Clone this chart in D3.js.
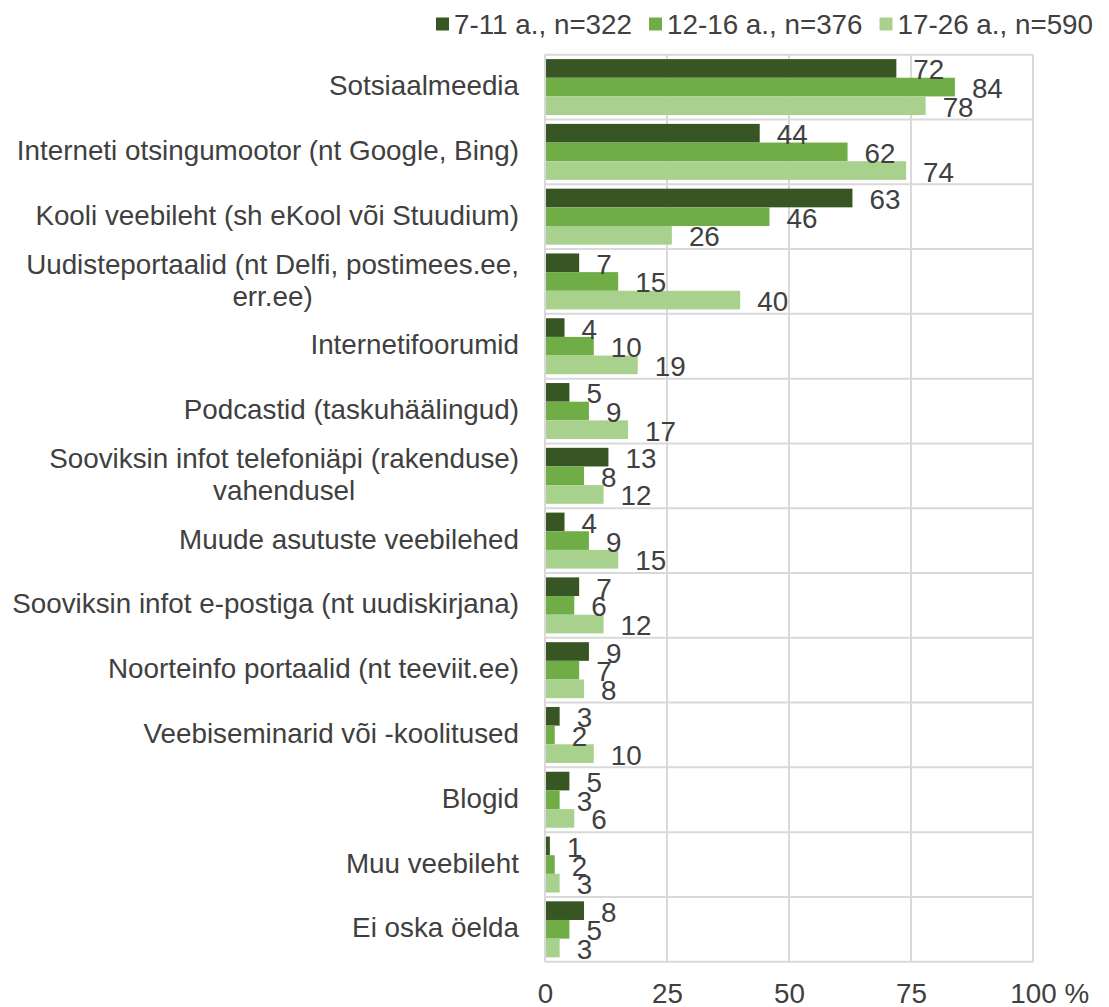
<!DOCTYPE html>
<html>
<head>
<meta charset="utf-8">
<script src="https://cdn.jsdelivr.net/npm/d3@7"></script>
<style>
  body { margin: 0; background: #fff; }
  text { font-family: "Liberation Sans", Arial, sans-serif; fill: #404040; }
</style>
</head>
<body>
<div id="chart"></div>
<script>
// categories (\n = line break as in the original)
const categories = [
  'Sotsiaalmeedia',
  'Interneti otsingumootor (nt Google, Bing)',
  'Kooli veebileht (sh eKool või Stuudium)',
  'Uudisteportaalid (nt Delfi, postimees.ee,\nerr.ee)',
  'Internetifoorumid',
  'Podcastid (taskuhäälingud)',
  'Sooviksin infot telefoniäpi (rakenduse)\nvahendusel',
  'Muude asutuste veebilehed',
  'Sooviksin infot e-postiga (nt uudiskirjana)',
  'Noorteinfo portaalid (nt teeviit.ee)',
  'Veebiseminarid või -koolitused',
  'Blogid',
  'Muu veebileht',
  'Ei oska öelda'
];

const seriesNames = ['7-11 a., n=322', '12-16 a., n=376', '17-26 a., n=590'];
const age7_11  = [72, 44, 63, 7, 4, 5, 13, 4, 7, 9, 3, 5, 1, 8];
const age12_16 = [84, 62, 46, 15, 10, 9, 8, 9, 6, 7, 2, 3, 2, 5];
const age17_26 = [78, 74, 26, 40, 19, 17, 12, 15, 12, 8, 10, 6, 3, 3];
const xTicks = [0, 25, 50, 75, 100];

const colors = ['#375623', '#70ad47', '#a9d18e'];

const w = 1109, h = 1007;
const plotLeft = 545, plotRight = 1033, plotTop = 54.7, plotBottom = 961.7;
const fontSize = 27.8;

const data = categories.map((c, i) => ({
  cat: c,
  vals: [age7_11[i], age12_16[i], age17_26[i]]
}));

const svg = d3.select('#chart').append('svg')
  .attr('width', w).attr('height', h);

const x = d3.scaleLinear().domain([0, 100]).range([plotLeft, plotRight]);
const y = d3.scaleBand().domain(categories).range([plotTop, plotBottom])
  .paddingInner(0.136).paddingOuter(0.068);
const ySub = d3.scaleBand().domain([0, 1, 2]).range([0, y.bandwidth()]);

/*Gridlines*/
const grid = svg.append('g').attr('stroke', '#d9d9d9').attr('stroke-width', 2);
grid.selectAll('line.v')
  .data(xTicks)
  .enter().append('line')
  .attr('x1', d => x(d)).attr('x2', d => x(d))
  .attr('y1', plotTop).attr('y2', plotBottom);

const step = y.step();
grid.selectAll('line.h')
  .data(d3.range(categories.length + 1))
  .enter().append('line')
  .attr('x1', plotLeft).attr('x2', plotRight)
  .attr('y1', i => plotTop + i * step).attr('y2', i => plotTop + i * step);

/*Bars*/
const groups = svg.append('g').selectAll('g')
  .data(data).enter().append('g')
  .attr('transform', d => `translate(0,${y(d.cat)})`);

groups.selectAll('rect')
  .data(d => d.vals)
  .enter().append('rect')
  .attr('x', x(0) + 1)
  .attr('y', (v, i) => ySub(i))
  .attr('width', v => x(v) - x(0) - 1)
  .attr('height', ySub.bandwidth())
  .attr('fill', (v, i) => colors[i]);

/*Data labels*/
groups.selectAll('text')
  .data(d => d.vals)
  .enter().append('text')
  .attr('x', v => x(v) + 17)
  .attr('y', (v, i) => ySub(i) + ySub.bandwidth() / 2 + 1.5)
  .attr('dominant-baseline', 'central')
  .style('font-size', fontSize + 'px')
  .text(v => v);

/*Category labels*/
const labelRight = 519;
svg.append('g').selectAll('text')
  .data(data).enter().append('text')
  .style('font-size', fontSize + 'px')
  .attr('dominant-baseline', 'central')
  .each(function (d) {
    const el = d3.select(this);
    const lines = d.cat.split('\n');
    const cy = y(d.cat) + y.bandwidth() / 2 - 1.5;
    if (lines.length === 1) {
      el.attr('text-anchor', 'end').attr('x', labelRight).attr('y', cy).text(lines[0]);
    } else {
      const lh = 32;
      const spans = lines.map((l, k) => el.append('tspan')
        .attr('y', cy + (k - (lines.length - 1) / 2) * lh).text(l));
      const maxW = d3.max(spans, s => s.node().getComputedTextLength());
      el.attr('text-anchor', 'middle');
      spans.forEach(s => s.attr('x', labelRight - maxW / 2));
    }
  });

/*X axis*/
const xAxis = d3.axisBottom(x)
  .tickValues(xTicks)
  .tickSize(0)
  .tickPadding(22)
  .tickFormat(d => d === 100 ? '100 %' : d);

const ax = svg.append('g')
  .attr('transform', `translate(0,${plotBottom})`)
  .call(xAxis);
ax.select('.domain').remove();
ax.selectAll('text')
  .attr('fill', '#404040')
  .style('font-size', fontSize + 'px')
  .style('font-family', '"Liberation Sans", Arial, sans-serif');
// keep "100" centred on its gridline, the "%" hangs to the right
ax.selectAll('.tick').filter(d => d === 100).select('text')
  .attr('text-anchor', 'start')
  .attr('x', -fontSize * 0.834);

/*Legend*/
const legend = svg.append('g');
let lx = 436;
seriesNames.forEach((name, i) => {
  legend.append('rect')
    .attr('x', lx).attr('y', 17.5)
    .attr('width', 13).attr('height', 13)
    .attr('fill', colors[i]);
  const t = legend.append('text')
    .attr('x', lx + 18).attr('y', 24)
    .attr('dominant-baseline', 'central')
    .style('font-size', fontSize + 'px')
    .text(name);
  lx += 18 + t.node().getComputedTextLength() + 17;
});
</script>
</body>
</html>
